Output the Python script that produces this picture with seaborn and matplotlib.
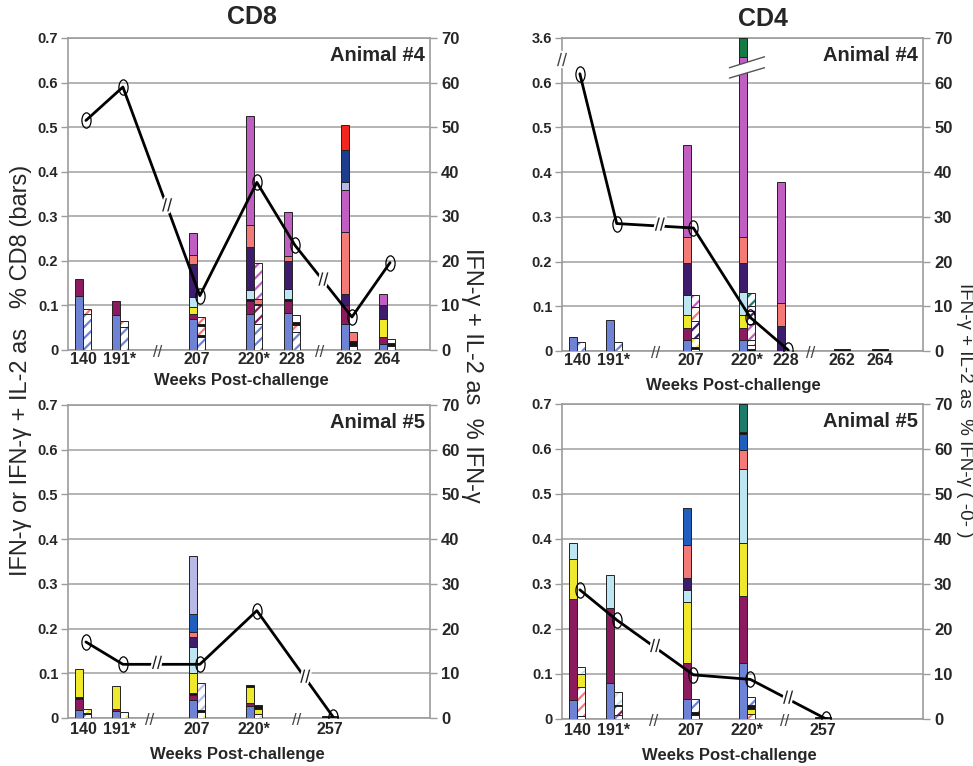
import numpy as np
import pandas as pd
import matplotlib
matplotlib.use("Agg")
import matplotlib.pyplot as plt
import seaborn as sns
from matplotlib.path import Path
from matplotlib.transforms import Affine2D, blended_transform_factory
import matplotlib.patheffects as pe

# ---------------- data ----------------
# CD8, Animal #4
CD8_A4_WEEKS = ["140", "191*", "207", "220*", "228", "262", "264"]
CD8_A4_LINE = [51.5, 59.0, 12.2, 37.6, 23.5, 7.4, 19.6]
CD8_A4_SOLID = [
    [("blue", .122), ("maroon", .037)],
    [("blue", .079), ("maroon", .032)],
    [("blue", .070), ("maroon", .011), ("yellow", .015), ("ltblue", .022), ("navy", .075), ("salmon", .020), ("orchid", .050)],
    [("blue", .081), ("maroon", .030), ("black", .004), ("ltblue", .020), ("navy", .095), ("salmon", .051), ("orchid", .243)],
    [("blue", .083), ("maroon", .028), ("black", .004), ("ltblue", .022), ("navy", .063), ("salmon", .011), ("orchid", .098)],
    [("blue", .059), ("maroon", .041), ("navy", .026), ("salmon", .138), ("orchid", .095), ("lav", .019), ("dkblue", .070), ("red", .056)],
    [("blue", .013), ("maroon", .017), ("yellow", .040), ("navy", .030), ("orchid", .026)],
]
CD8_A4_HATCH = [
    [("blue_h", .081), ("salmon_h", .012)],
    [("blue_h", .052), ("salmon_h", .012)],
    [("blue_h", .030), ("black", .004), ("salmon_h", .020), ("black", .004), ("salmon_h", .016)],
    [("blue_h", .059), ("maroon_h", .041), ("black", .004), ("salmon", .010), ("orchid_h", .082)],
    [("blue_h", .041), ("salmon_h", .015), ("black", .007), ("white", .015)],
    [("white", .010), ("black", .010), ("salmon", .021)],
    [("ltblue_h", .008), ("black", .008), ("white", .008)],
]

# CD4, Animal #4
CD4_A4_WEEKS = ["140", "191*", "207", "220*", "228", "262", "264"]
CD4_A4_LINE = [62.0, 28.5, 27.5, 7.5, 0.2]
CD4_A4_SOLID = [
    [("blue", .032)],
    [("blue", .069)],
    [("blue", .025), ("maroon", .026), ("yellow", .030), ("ltblue", .044), ("navy", .071), ("salmon", .060), ("orchid", .205)],
    [("blue", .025), ("maroon", .026), ("yellow", .030), ("ltblue", .052), ("navy", .063), ("salmon", .060), ("orchid", 1.80), ("green", 1.54)],
    [("navy", .055), ("salmon", .052), ("orchid", .270)],
    [("black", .004)],
    [("black", .004)],
]
CD4_A4_HATCH = [
    [("blue_h", .021)],
    [("blue_h", .019)],
    [("white", .004), ("black", .004), ("yellow_h", .020), ("navy_h", .040), ("salmon_h", .030), ("orchid_h", .027)],
    [("black", .005), ("white", .008), ("salmon_h", .012), ("orchid_h", .035), ("navy_h", .030), ("orchid_h", .010), ("teal_h", .029)],
    [],
    [("black", .004)],
    [("black", .004)],
]

# CD8, Animal #5
CD8_A5_WEEKS = ["140", "191*", "207", "220*", "257"]
CD8_A5_LINE = [17.0, 12.0, 12.0, 24.0, 0.3]
CD8_A5_SOLID = [
    [("blue", .017), ("maroon", .026), ("black", .003), ("yellow", .064)],
    [("blue", .016), ("maroon", .004), ("yellow", .051)],
    [("blue", .040), ("maroon", .012), ("black", .004), ("yellow", .044), ("ltblue", .059), ("navy", .022), ("salmon", .012), ("royal", .040), ("lav", .130)],
    [("blue", .026), ("maroon", .007), ("yellow", .037), ("black", .004)],
    [("black", .004)],
]
CD8_A5_HATCH = [
    [("blue_h", .009), ("black", .003), ("yellow_h", .007)],
    [("yellow_h", .013)],
    [("yellow_h", .013), ("black", .005), ("lav_h", .061)],
    [("ltblue_h", .009), ("yellow", .011), ("black", .008)],
    [("black", .004)],
]

# CD4, Animal #5
CD4_A5_WEEKS = ["140", "191*", "207", "220*", "257"]
CD4_A5_LINE = [28.7, 22.0, 9.8, 8.8, 0.0]
CD4_A5_SOLID = [
    [("blue", .043), ("maroon", .224), ("yellow", .089), ("ltblue", .035)],
    [("blue", .080), ("maroon", .166), ("ltblue", .074)],
    [("blue", .045), ("maroon", .079), ("yellow", .135), ("ltblue", .028), ("navy", .026), ("salmon", .074), ("royal", .081)],
    [("blue", .124), ("maroon", .150), ("yellow", .116), ("ltblue", .166), ("salmon", .041), ("royal", .037), ("black", .003), ("teal", .063)],
    [("black", .004)],
]
CD4_A5_HATCH = [
    [("white", .006), ("salmon_h", .064), ("yellow", .030), ("ltblue_h", .015)],
    [("blue_h", .008), ("maroon_h", .020), ("black", .004), ("ltblue_h", .027)],
    [("white", .008), ("black", .008), ("blue_h", .028)],
    [("salmon_h", .010), ("yellow", .012), ("black", .008), ("blue_h", .018)],
    [("black", .004)],
]

# ---------------- styling / layout ----------------
PAL = {
    "blue": "#6e82d6", "maroon": "#8c1a5e", "navy": "#3d1c6e", "ltblue": "#bde6f2",
    "yellow": "#efe82c", "salmon": "#f47a78", "orchid": "#c05ec2", "red": "#f2261c",
    "dkblue": "#1d3d8e", "lav": "#b9b9e8", "teal": "#1c7a6c", "royal": "#1f5dbf",
    "green": "#147a46", "black": "#151515", "white": "#ffffff",
}
SLOTS_A4 = [0.79, 2.73, 6.77, 9.76, 11.76, 14.75, 16.75]
SLOTS_A5 = [0.79, 2.73, 6.77, 9.76, 13.75]
BAR_W = 0.42
LINE_DX = 0.15
GRID_C = "#b3b3b3"
SPINE_C = "#9c9c9c"
BRK = 0.62  # CD4 #4 axis break


def fwd(y):
    y = np.asarray(y, dtype=float)
    return np.where(y <= BRK, y, BRK + (y - BRK) * (0.7 - BRK) / (3.6 - BRK))


def inv(t):
    t = np.asarray(t, dtype=float)
    return np.where(t <= BRK, t, BRK + (t - BRK) * (3.6 - BRK) / (0.7 - BRK))


sns.set_theme(style="white")
plt.rcParams["font.family"] = ["Liberation Sans", "DejaVu Sans"]
plt.rcParams["font.weight"] = "bold"
plt.rcParams["hatch.linewidth"] = 1.6

fig = plt.figure(figsize=(9.73, 7.66), dpi=100)

ell = Path.unit_circle().transformed(Affine2D().scale(0.6, 1.0))


def stack(ax, x, segs):
    bottom = 0.0
    for key, h in segs:
        if key.endswith("_h"):
            base = PAL[key[:-2]]
            ax.bar(x, h, BAR_W, bottom=bottom, align="edge", color="white",
                   edgecolor=base, hatch="///", linewidth=0, zorder=3)
            ax.bar(x, h, BAR_W, bottom=bottom, align="edge", fill=False,
                   edgecolor="#222222", linewidth=0.7, zorder=3)
        else:
            ax.bar(x, h, BAR_W, bottom=bottom, align="edge", color=PAL[key],
                   edgecolor="#222222", linewidth=0.7, zorder=3)
        bottom += h


def slash(ax, x, y, trans, size=11, color="#222222"):
    ax.text(x, y, "//", transform=trans, ha="center", va="center", fontsize=size,
            fontweight="normal", color=color, zorder=6,
            path_effects=[pe.withStroke(linewidth=3, foreground="white")])


def panel(rect, weeks, slots, solid, hatch, line, animal, axis_breaks,
          line_breaks, top_row, cd4break=False):
    ax = fig.add_axes(rect)
    for s, seg in zip(slots, solid):
        stack(ax, s - BAR_W, seg)
    for s, seg in zip(slots, hatch):
        stack(ax, s, seg)
    if cd4break:
        ax.set_yscale("function", functions=(fwd, inv))
        ax.set_ylim(0, 3.6)
        ticks = [0, .1, .2, .3, .4, .5, .6, 3.6]
        ax.set_yticks(ticks)
        ax.set_yticklabels(["0", "0.1", "0.2", "0.3", "0.4", "0.5", "0.6", "3.6"])
    else:
        ax.set_ylim(0, 0.7)
        ticks = [0, .1, .2, .3, .4, .5, .6, .7]
        ax.set_yticks(ticks)
        ax.set_yticklabels(["0", "0.1", "0.2", "0.3", "0.4", "0.5", "0.6", "0.7"])
    ax.set_xlim(0, 19)
    ax.set_xticks(slots)
    ax.set_xticklabels(weeks)
    ax.yaxis.grid(True, color=GRID_C, linewidth=1.4, zorder=0)
    ax.set_axisbelow(True)
    ax.tick_params(axis="y", left=True, length=5, width=1, color=SPINE_C,
                   labelsize=10.5, pad=2)
    ax.tick_params(axis="x", bottom=False, length=0, labelsize=11.5,
                   pad=1.5 if top_row else 3)
    for sp in ax.spines.values():
        sp.set_color(SPINE_C)
        sp.set_linewidth(1.2)
    ax.spines["right"].set_visible(False)

    ax2 = ax.twinx()
    n = len(line)
    df = pd.DataFrame({"x": [s + LINE_DX for s in slots[:n]], "y": line})
    sns.lineplot(data=df, x="x", y="y", ax=ax2, color="black", linewidth=2.0,
                 marker=ell, markersize=11, markerfacecolor="none",
                 markeredgecolor="black", markeredgewidth=0.9, zorder=5)
    ax2.set_ylim(0, 70)
    ax2.set_yticks(range(0, 71, 10))
    ax2.set_ylabel("")
    ax2.set_xlabel("")
    ax2.tick_params(axis="y", right=True, length=5, width=1, color=SPINE_C,
                    labelsize=12, pad=3)
    for k, sp in ax2.spines.items():
        sp.set_visible(k == "right")
        sp.set_color(SPINE_C)
        sp.set_linewidth(1.2)
    ax2.grid(False)
    ax2.set_xlim(0, 19)

    # line breaks
    xs = df["x"].to_numpy()
    for xb in line_breaks:
        yb = np.interp(xb, xs, line)
        slash(ax2, xb, yb, ax2.transData, size=13)
    # x-axis breaks
    tr = blended_transform_factory(ax.transData, ax.transAxes)
    for xb in axis_breaks:
        ax.text(xb, -0.008, "//", transform=tr, ha="center", va="center",
                fontsize=12, fontweight="normal", color="#444444", zorder=6)

    ax.text(0.985, 0.975, animal, transform=ax.transAxes, ha="right", va="top",
            fontsize=14.5, fontweight="bold", zorder=7)
    return ax, ax2


axTL, _ = panel([0.0699, 0.5431, 0.3721, 0.4073], CD8_A4_WEEKS, SLOTS_A4,
                CD8_A4_SOLID, CD8_A4_HATCH, CD8_A4_LINE, "Animal #4",
                [4.72, 13.2], [5.2, 13.4], True)
axTR, _ = panel([0.5776, 0.5418, 0.3710, 0.4086], CD4_A4_WEEKS, SLOTS_A4,
                CD4_A4_SOLID, CD4_A4_HATCH, CD4_A4_LINE, "Animal #4",
                [4.93, 13.1], [5.15], True, cd4break=True)
axBL, _ = panel([0.0699, 0.0627, 0.3721, 0.4086], CD8_A5_WEEKS, SLOTS_A5,
                CD8_A5_SOLID, CD8_A5_HATCH, CD8_A5_LINE, "Animal #5",
                [4.3, 12.0], [4.67, 12.45], False)
axBR, _ = panel([0.5776, 0.0614, 0.3710, 0.4112], CD4_A5_WEEKS, SLOTS_A5,
                CD4_A5_SOLID, CD4_A5_HATCH, CD4_A5_LINE, "Animal #5",
                [4.8, 11.7], [4.9, 11.9], False)

# CD4 #4 broken axis decorations
tra = blended_transform_factory(axTR.transData, axTR.transAxes)
c = SLOTS_A4[3]
poly = plt.Polygon([(c - 0.95, 0.872), (c + 0.9, 0.905), (c + 0.9, 0.94),
                    (c - 0.95, 0.905)], closed=True, transform=tra,
                   facecolor="white", edgecolor="none", zorder=4)
axTR.add_patch(poly)
axTR.plot([c - 0.95, c + 0.9], [0.872, 0.905], transform=tra, color="#555555",
          lw=1, zorder=4)
axTR.plot([c - 0.95, c + 0.9], [0.905, 0.94], transform=tra, color="#555555",
          lw=1, zorder=4)
axTR.text(0.0, 0.925, "//", transform=axTR.transAxes, ha="center", va="center",
          fontsize=13, fontweight="normal", color="#444444", zorder=7,
          path_effects=[pe.withStroke(linewidth=3, foreground="white")])

# x labels
for ax, xx, yy in [(axTL, 0.478, -0.099), (axTR, 0.474, -0.109),
                   (axBL, 0.467, -0.118), (axBR, 0.463, -0.115)]:
    ax.text(xx, yy, "Weeks Post-challenge", transform=ax.transAxes,
            ha="center", va="center", fontsize=12, fontweight="bold")

# titles
fig.text(252 / 973, 1 - 17 / 766, "CD8", ha="center", va="center",
         fontsize=18, fontweight="bold")
fig.text(763 / 973, 1 - 19 / 766, "CD4", ha="center", va="center",
         fontsize=18, fontweight="bold")

# side labels
fig.text(21 / 973, 1 - 370 / 766, "IFN-γ or IFN-γ + IL-2 as   % CD8 (bars)",
         rotation=90, ha="center", va="center", fontsize=17, fontweight="normal")
fig.text(472 / 973, 1 - 375 / 766, "IFN-γ + IL-2 as  % IFN-γ",
         rotation=270, ha="center", va="center", fontsize=17, fontweight="normal")
fig.text(964 / 973, 1 - 410 / 766, "IFN-γ + IL-2 as  % IFN-γ ( -0- )",
         rotation=270, ha="center", va="center", fontsize=13.5, fontweight="normal")

fig.savefig("out.png", dpi=100, facecolor="white")
